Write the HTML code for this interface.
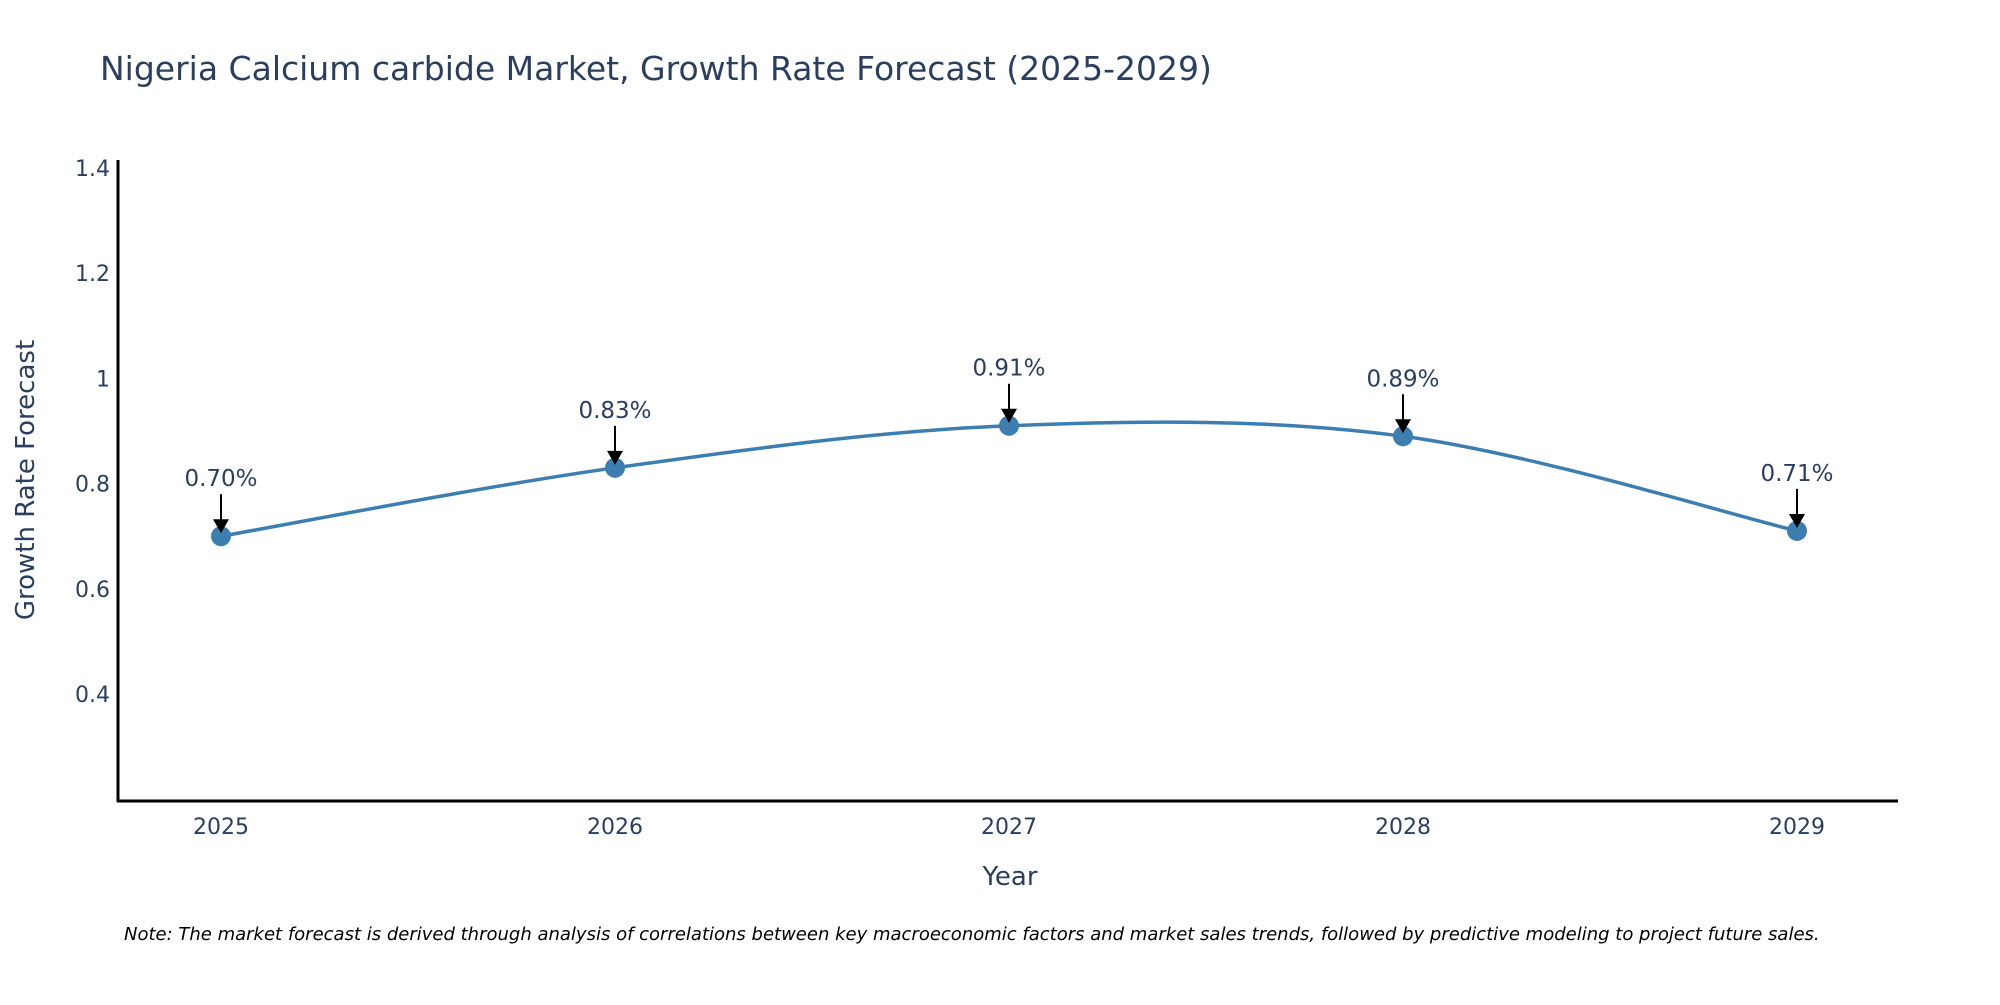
<!DOCTYPE html>
<html><head><meta charset="utf-8"><style>
body{margin:0;background:#fff;}
svg text{font-family:"DejaVu Sans","Liberation Sans",sans-serif;}
</style></head><body>
<svg id="chart" width="2000" height="1000" xmlns="http://www.w3.org/2000/svg">
<text x="100" y="80" font-size="33" fill="#2a3f5f">Nigeria Calcium carbide Market, Growth Rate Forecast (2025-2029)</text>
<g id="yticks"></g>
<g id="xticks"></g>
<path id="line" fill="none" stroke="#3d7eb0" stroke-width="3.5"/>
<g id="points"></g>
<g id="annots"></g>
<line x1="118" y1="160" x2="118" y2="802" stroke="#000" stroke-width="3"/>
<line x1="117" y1="801" x2="1898" y2="801" stroke="#000" stroke-width="3"/>
<text x="1010" y="885" font-size="26" fill="#2a3f5f" text-anchor="middle">Year</text>
<text transform="translate(34,480) rotate(-90)" font-size="26" fill="#2a3f5f" text-anchor="middle">Growth Rate Forecast</text>
<text x="124" y="940" font-size="18" font-style="italic" fill="#000">Note: The market forecast is derived through analysis of correlations between key macroeconomic factors and market sales trends, followed by predictive modeling to project future sales.</text>
</svg>
<script>
const years = [2025, 2026, 2027, 2028, 2029];
const rates = [0.70, 0.83, 0.91, 0.89, 0.71];
const labels = ["0.70%", "0.83%", "0.91%", "0.89%", "0.71%"];
const yTicks = [0.4, 0.6, 0.8, 1, 1.2, 1.4];
const yTickLabels = ["0.4", "0.6", "0.8", "1", "1.2", "1.4"];
const NS = "http://www.w3.org/2000/svg";
const x = v => 221 + (v - 2025) * 394;
const y = v => 694 - (v - 0.4) * 526;
function mk(tag, attrs, parent){const e=document.createElementNS(NS,tag);for(const k in attrs)e.setAttribute(k,attrs[k]);parent.appendChild(e);return e;}
const yt=document.getElementById('yticks');
yTicks.forEach((t,i)=>{const e=mk('text',{x:110,y:y(t)+8,'font-size':22,fill:'#2a3f5f','text-anchor':'end'},yt);e.textContent=yTickLabels[i];

});
const xt=document.getElementById('xticks');
years.forEach(v=>{const e=mk('text',{x:x(v),y:834,'font-size':22,fill:'#2a3f5f','text-anchor':'middle'},xt);e.textContent=v;

});
const P=years.map((v,i)=>[x(v),y(rates[i])]);
let d='M'+P[0][0]+','+P[0][1];
for(let i=0;i<P.length-1;i++){const p0=P[Math.max(0,i-1)],p1=P[i],p2=P[i+1],p3=P[Math.min(P.length-1,i+2)];
const c1=[p1[0]+(p2[0]-p0[0])/6,p1[1]+(p2[1]-p0[1])/6],c2=[p2[0]-(p3[0]-p1[0])/6,p2[1]-(p3[1]-p1[1])/6];
d+=' C'+c1+' '+c2+' '+p2;}
document.getElementById('line').setAttribute('d',d);
const pts=document.getElementById('points'),an=document.getElementById('annots');
P.forEach((p,i)=>{const c=mk('circle',{cx:p[0],cy:p[1],r:10,fill:'#3d7eb0'},pts);


const l=mk('line',{x1:p[0],y1:p[1]-42,x2:p[0],y2:p[1]-14,stroke:'#000','stroke-width':2},an);


const h=mk('polygon',{points:`${p[0]-8},${p[1]-17} ${p[0]+8},${p[1]-17} ${p[0]},${p[1]-3}`,fill:'#000'},an);


const t=mk('text',{x:p[0],y:p[1]-50,'font-size':23,fill:'#2a3f5f','text-anchor':'middle'},an);t.textContent=labels[i];

});
</script>
</body></html>
